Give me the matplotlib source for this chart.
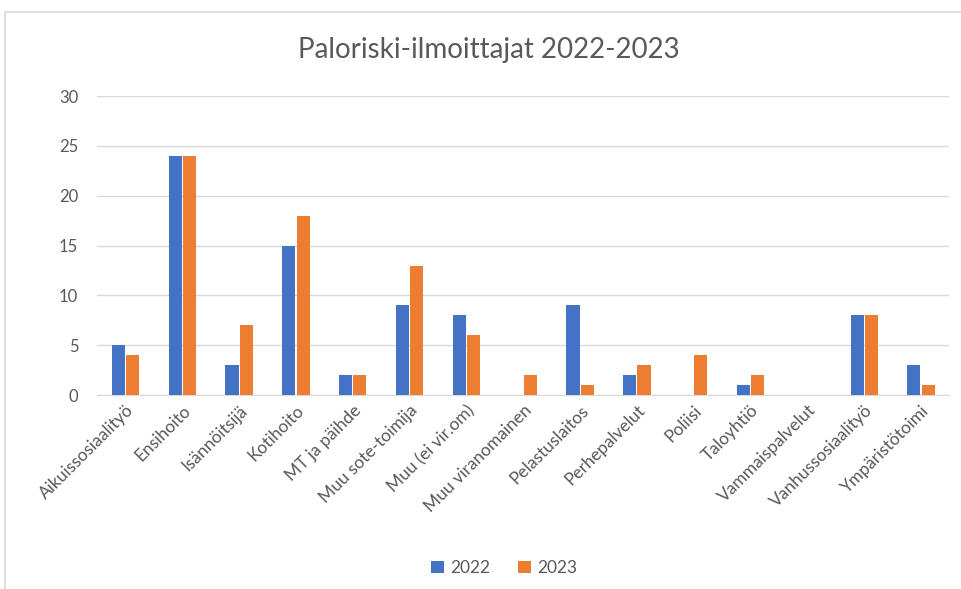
import numpy as np
import matplotlib
matplotlib.use("Agg")
import matplotlib.pyplot as plt
from matplotlib.patches import Rectangle

# === DATA ===
categories = ["Aikuissosiaalityö", "Ensihoito", "Isännöitsijä", "Kotihoito",
              "MT ja päihde", "Muu sote-toimija", "Muu (ei vir.om)",
              "Muu viranomainen", "Pelastuslaitos", "Perhepalvelut", "Poliisi",
              "Taloyhtiö", "Vammaispalvelut", "Vanhussosiaalityö", "Ympäristötoimi"]
values_2022 = [5, 24, 3, 15, 2, 9, 8, 0, 9, 2, 0, 1, 0, 8, 3]
values_2023 = [4, 24, 7, 18, 2, 13, 6, 2, 1, 3, 4, 2, 0, 8, 1]
years = ["2022", "2023"]

# === STYLE ===
plt.rcParams['font.family'] = ['Lato', 'DejaVu Sans']
text_col = "#595959"
blue = "#4472C4"
orange = "#ED7D31"

fig = plt.figure(figsize=(9.61, 5.89), dpi=100)
ax = fig.add_axes([0.101, 0.329, 0.887, 0.508])

x = np.arange(len(categories))
w = 0.23
ax.bar(x - 0.125, values_2022, w, color=blue, label=years[0], zorder=3)
ax.bar(x + 0.125, values_2023, w, color=orange, label=years[1], zorder=3)

ax.set_xlim(-0.5, len(categories) - 0.5)
ax.set_ylim(0, 30)
ax.set_yticks(range(0, 31, 5))
ax.yaxis.grid(True, color="#d9d9d9", linewidth=1, zorder=0)
ax.tick_params(axis='y', length=0, labelsize=12, colors=text_col, pad=13.5)
ax.tick_params(axis='x', length=0, labelsize=12.5, colors=text_col, pad=5)
ax.set_xticks(x)
ax.set_xticklabels(categories, rotation=45, ha='right', rotation_mode='anchor')
for side in ['top', 'right', 'left']:
    ax.spines[side].set_visible(False)
ax.spines['bottom'].set_color("#d9d9d9")

fig.text(0.509, 0.915, "Paloriski-ilmoittajat 2022-2023", ha='center', va='center',
         fontsize=20, color=text_col)

fig.legend(loc='center', bbox_to_anchor=(0.525, 0.035), ncol=2, frameon=False,
           fontsize=12.5, handlelength=0.7, handleheight=0.7, handletextpad=0.4,
           columnspacing=1.6, labelcolor=text_col)

# chart area border (only top and left visible in reference)
fig.patches.append(Rectangle((5 / 961, -0.1), 1.2, 1.1 - 12 / 589, fill=False,
                             edgecolor="#d9d9d9", linewidth=1.2,
                             transform=fig.transFigure, figure=fig))

fig.savefig("out.png", dpi=100)
